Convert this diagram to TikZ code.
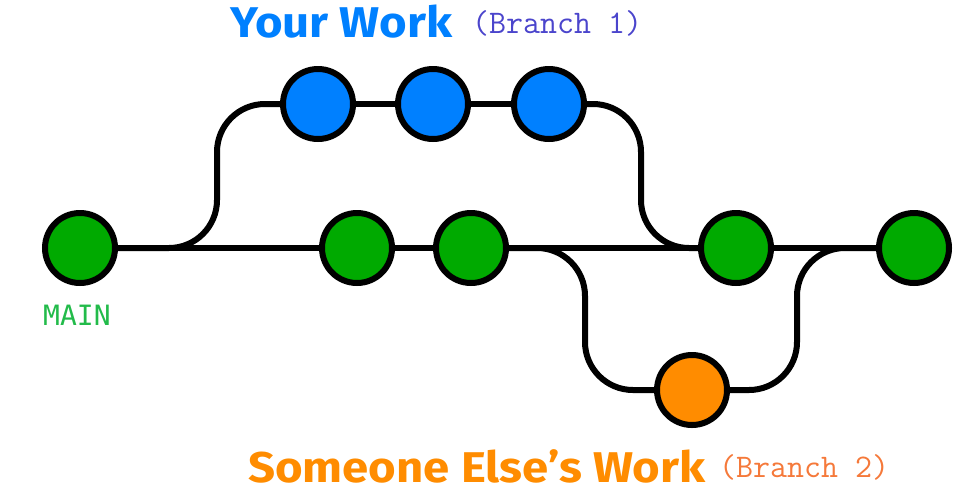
\documentclass[tikz,border=0pt]{standalone}
\usepackage{fontspec}
\setmainfont{Fira Sans}
\newfontfamily\titlefont[FakeStretch=1.1]{Fira Sans}
\newfontfamily\monofont{DejaVu Sans Mono}
\definecolor{mgreen}{HTML}{00AA00}
\definecolor{ublue}{HTML}{0080FF}
\definecolor{oorange}{HTML}{FF8C00}
\definecolor{brone}{HTML}{4B45CC}
\definecolor{brtwo}{HTML}{F5793A}
\definecolor{maintxt}{HTML}{22BB4A}
\begin{document}
\begin{tikzpicture}[x=1pt,y=-1pt,
  commit/.style={circle,draw=black,line width=6pt,minimum size=70pt,inner sep=0pt},
  link/.style={draw=black,line width=6pt,rounded corners=48pt},
  title/.style={anchor=base west,inner sep=0pt}]
\useasboundingbox (0,0) rectangle (968,496);
% commits
\node[commit,fill=mgreen] (m1) at (80,248) {};
\node[commit,fill=mgreen] (g2) at (357,248) {};
\node[commit,fill=mgreen] (g3) at (471,248) {};
\node[commit,fill=mgreen] (g4) at (736,248) {};
\node[commit,fill=mgreen] (g5) at (914,248) {};
\node[commit,fill=ublue] (u1) at (318,104) {};
\node[commit,fill=ublue] (u2) at (433,104) {};
\node[commit,fill=ublue] (u3) at (549,104) {};
\node[commit,fill=oorange] (o1) at (692,390) {};
% corner coordinates
\coordinate (c1) at (217,248);
\coordinate (c2) at (641,248);
\coordinate (c3) at (585,248);
\coordinate (c4) at (797,248);
% connectors
\draw[link] (m1) -- (g2);
\draw[link] (g2) -- (g3);
\draw[link] (g3) -- (g4);
\draw[link] (g4) -- (g5);
\draw[link] (m1) -- (c1) |- (u1);
\draw[link] (u1) -- (u2);
\draw[link] (u2) -- (u3);
\draw[link] (u3) -| (c2) -- (g4);
\draw[link] (g3) -- (c3) |- (o1);
\draw[link] (o1) -| (c4) -- (g5);
% labels
\node[title,text=ublue,font=\titlefont\bfseries\fontsize{43}{43}\selectfont] (t1) at (230,37) {Your Work};
\node[title,text=brone,font=\ttfamily\fontsize{33}{33}\selectfont] (b1) at (472,33) {(Branch 1)};
\node[title,text=oorange,font=\titlefont\bfseries\fontsize{43}{43}\selectfont] (t2) at (248,482) {Someone Else’s Work};
\node[title,text=brtwo,font=\ttfamily\fontsize{33}{33}\selectfont] (b2) at (719,477) {(Branch 2)};
\node[title,text=maintxt,font=\monofont\fontsize{28}{28}\selectfont] (mt) at (43,325) {MAIN};
\end{tikzpicture}
\end{document}
